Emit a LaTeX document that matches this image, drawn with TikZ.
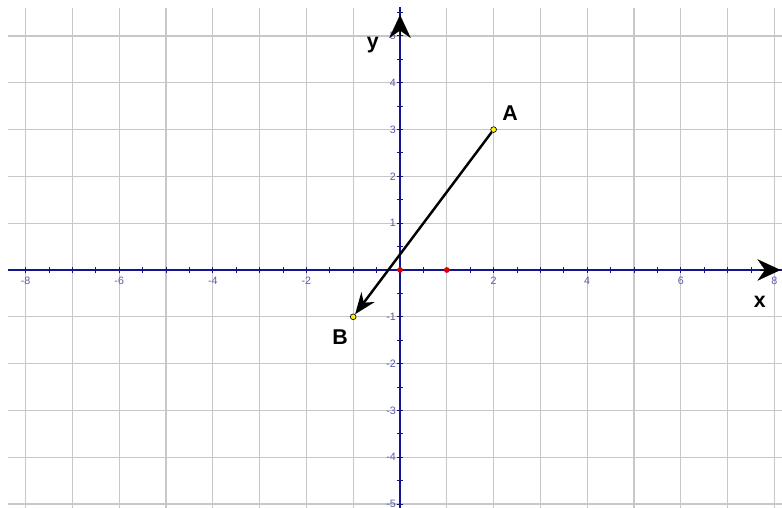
\documentclass[tikz,border=0pt]{standalone}
\usepackage{fontspec}
\setmainfont{Liberation Sans}
\usetikzlibrary{arrows.meta}
\definecolor{axisblue}{RGB}{20,20,140}
\definecolor{labblue}{RGB}{90,90,175}
\begin{document}
\begin{tikzpicture}[thick, >={Stealth[length=13pt,width=10pt]},
    gridline/.style={draw=black!22, line width=0.7pt},
    axisline/.style={draw=axisblue, line width=0.9pt},
    ticklab/.style={text=labblue, font=\fontsize{6.5}{7}\selectfont, inner sep=1pt},
    pt/.style={circle, draw=black, fill=yellow, inner sep=0pt, minimum size=3.5pt, line width=0.4pt},
    origpt/.style={circle, fill=red!85!black, inner sep=0pt, minimum size=3.5pt},
    letter/.style={font=\bfseries\fontsize{13}{13}\selectfont},
    axisarrow/.style={->, draw=black, line width=0.1pt, >={Stealth[length=14pt,width=13pt]}}]
    \useasboundingbox (-8.547,-5.085) rectangle (8.162,5.769);

    % grid
    \foreach \i in {-8,...,8}
        \draw[gridline] (\i,-5.085) -- (\i,5.6);
    \foreach \j in {-5,...,5}
        \draw[gridline] (-8.37,\j) -- (8.162,\j);

    % axes
    \draw[axisline] (-8.37,0) -- (8.162,0);
    \draw[axisline] (0,-5.085) -- (0,5.62);
    \foreach \i in {-8,-7.5,...,8}
        \draw[axisline, line width=0.6pt] (\i,-0.07) -- (\i,0.07);
    \foreach \j in {-5,-4.5,...,5.5}
        \draw[axisline, line width=0.6pt] (-0.07,\j) -- (0.07,\j);
    \foreach \i in {-8,-6,-4,-2,2,4,6,8}
        \node[ticklab] at (\i,-0.24) {\i};
    \foreach \j in {-5,...,-1,1,2,3,4,5}
        \node[ticklab, anchor=east] at (-0.04,\j) {\j};

    % axis arrows
    \coordinate (xend) at (8.13,0);
    \coordinate (yend) at (0,5.45);
    \draw[axisarrow] (7.7,0) -- (xend);
    \draw[axisarrow] (0,5.0) -- (yend);
    \node[letter] (x) at (7.69,-0.68) {x};
    \node[letter] (y) at (-0.58,4.81) {y};

    % points
    \node[origpt] (O) at (0,0) {};
    \node[origpt] (E) at (1,0) {};
    \node[pt] (A) at (2,3) {};
    \node[pt] (B) at (-1,-1) {};
    \node[letter] (Alab) at (2.35,3.35) {A};
    \node[letter] (Blab) at (-1.28,-1.43) {B};

    \draw[->, line width=1.5pt] (A) -- (B);
\end{tikzpicture}
\end{document}
